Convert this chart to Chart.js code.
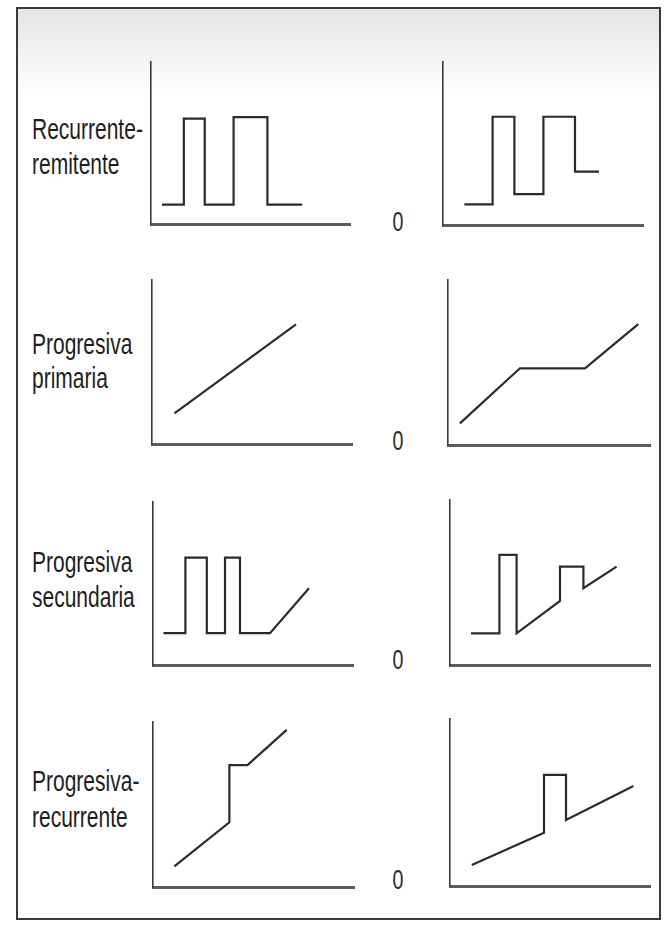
<!DOCTYPE html>
<html>
<head>
<meta charset="utf-8">
<script src="https://cdn.jsdelivr.net/npm/chart.js@4.4.1/dist/chart.umd.min.js"></script>
<style>
  html, body { margin: 0; padding: 0; background: #fff; }
  #page { position: relative; width: 667px; height: 926px; overflow: hidden; }
  #frame {
    position: absolute; left: 16px; top: 7px; width: 641px; height: 909px;
    border: 2px solid #3a3a3a;
    background: linear-gradient(to bottom, #e4e4e4 0px, #f1f1f1 40px, #ffffff 85px);
  }
  .panel { position: absolute; }
  .lbl {
    position: absolute; left: 32px; height: 36px; line-height: 36px;
    font-family: "Liberation Sans", Arial, sans-serif; font-size: 30px; color: #1e1e1e;
    transform: scaleX(0.7); transform-origin: left center; white-space: nowrap;
  }
  .zero {
    position: absolute; width: 30px; text-align: center; height: 30px; line-height: 30px;
    font-family: "Liberation Sans", Arial, sans-serif; font-size: 28px; color: #2a2a2a;
    transform: scaleX(0.7);
  }
</style>
</head>
<body>
<div id="page">
  <div id="frame"></div>
</div>
<script>
// --- curso clínico: datos de cada panel (x, y en unidades 0-100) ---
const rowLabels = [
  ['Recurrente-', 'remitente'],
  ['Progresiva', 'primaria'],
  ['Progresiva', 'secundaria'],
  ['Progresiva-', 'recurrente'],
];
const zeroLabel = '0';

// fila 1: recurrente-remitente
const rrLeftX  = [5.5, 16.5, 16.5, 27, 27, 41.5, 41.5, 58.5, 58.5, 76];
const rrLeftY  = [12, 12, 65, 65, 12, 12, 66, 66, 12, 12];
const rrRightX = [10.7, 24.8, 24.8, 35.7, 35.7, 50.2, 50.2, 66, 66, 78];
const rrRightY = [12.7, 12.7, 66.4, 66.4, 19, 19, 66.4, 66.4, 32.7, 32.7];

// fila 2: progresiva primaria
const ppLeftX  = [11.2, 72];
const ppLeftY  = [18.7, 73];
const ppRightX = [5.9, 35.6, 67.8, 94.2];
const ppRightY = [13.1, 46.5, 46.5, 73.2];

// fila 3: progresiva secundaria
const psLeftX  = [5.2, 16.2, 16.2, 26.9, 26.9, 36, 36, 43.5, 43.5, 58.5, 78];
const psLeftY  = [19.5, 19.5, 65.9, 65.9, 19.5, 19.5, 65.9, 65.9, 19.5, 19.5, 47.1];
const psRightX = [10.5, 24.7, 24.7, 33.3, 33.3, 55, 55, 66.7, 66.7, 83.3];
const psRightY = [19.2, 19.2, 66.7, 66.7, 19.2, 38.8, 59.6, 59.6, 46.5, 59.6];

// fila 4: progresiva-recurrente
const prLeftX  = [10.6, 38, 38, 47, 66.5];
const prLeftY  = [12.5, 39.2, 73.9, 73.9, 95.2];
const prRightX = [10.9, 47, 47, 58, 58, 91.7];
const prRightY = [12.6, 31.9, 66.5, 66.5, 39.5, 59.9];

const panelSeries = [
  [rrLeftX, rrLeftY], [rrRightX, rrRightY],
  [ppLeftX, ppLeftY], [ppRightX, ppRightY],
  [psLeftX, psLeftY], [psRightX, psRightY],
  [prLeftX, prLeftY], [prRightX, prRightY],
];

// posiciones de los ejes en la página: [izq, arriba, ancho, alto]
const panelBoxes = [
  [151, 62, 199, 162], [443, 62, 200, 163],
  [152, 280, 200, 164], [448, 280, 202, 165],
  [153, 502, 200, 163], [450, 500, 200, 165],
  [153, 722, 201, 165], [450, 719, 200, 167],
];
const labelCenters = [[129, 164], [344, 378], [562, 597], [781, 817]];
const zeroCenters = [222, 441, 660, 880];

const page = document.getElementById('page');
const PAD = 3;

rowLabels.forEach((lines, r) => {
  lines.forEach((t, i) => {
    const d = document.createElement('div');
    d.className = 'lbl';
    d.style.top = (labelCenters[r][i] - 18) + 'px';
    d.textContent = t;
    page.appendChild(d);
  });
  const z = document.createElement('div');
  z.className = 'zero';
  z.style.left = (398 - 15) + 'px';
  z.style.top = (zeroCenters[r] - 15) + 'px';
  z.textContent = zeroLabel;
  page.appendChild(z);
});

panelSeries.forEach(([xs, ys], i) => {
  const [l, t, w, h] = panelBoxes[i];
  const box = document.createElement('div');
  box.className = 'panel';
  box.style.left = (l - PAD) + 'px';
  box.style.top = (t - PAD) + 'px';
  box.style.width = (w + PAD * 2) + 'px';
  box.style.height = (h + PAD * 2) + 'px';
  const cv = document.createElement('canvas');
  box.appendChild(cv);
  page.appendChild(box);

  new Chart(cv.getContext('2d'), {
    type: 'scatter',
    data: {
      datasets: [{
        data: xs.map((x, k) => ({ x, y: ys[k] })),
        showLine: true,
        borderColor: '#2b2b2b',
        borderWidth: 2.2,
        pointRadius: 0,
        tension: 0,
        clip: false,
      }],
    },
    options: {
      responsive: true, maintainAspectRatio: false,
      animation: false,
      layout: { padding: PAD },
      plugins: { legend: { display: false }, tooltip: { enabled: false } },
      scales: {
        x: {
          type: 'linear', min: 0, max: 100,
          ticks: { display: false },
          grid: { display: false, drawTicks: false },
          border: { display: true, color: '#5d5a63', width: 3 },
          afterFit: s => { s.height = 0; },
        },
        y: {
          type: 'linear', min: 0, max: 100,
          ticks: { display: false },
          grid: { display: false, drawTicks: false },
          border: { display: true, color: '#3a3a3a', width: 1.6 },
          afterFit: s => { s.width = 0; },
        },
      },
    },
  });
});
</script>
</body>
</html>
